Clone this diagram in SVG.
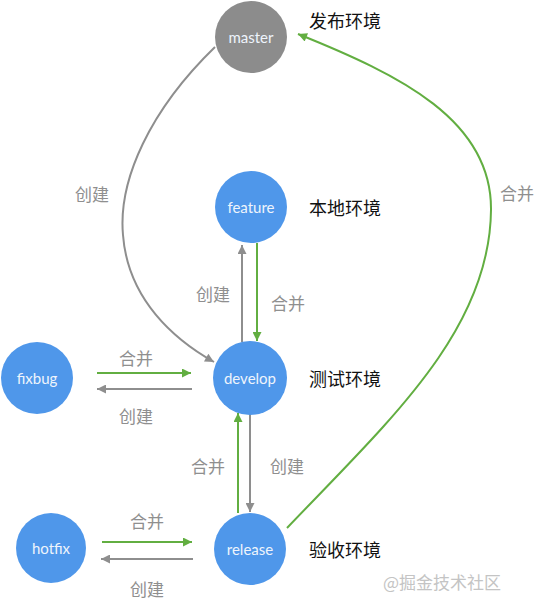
<svg xmlns="http://www.w3.org/2000/svg" width="542" height="608" viewBox="0 0 542 608">
<defs>
<marker id="ag" viewBox="0 0 10 10" refX="10" refY="5" markerWidth="11" markerHeight="9" markerUnits="userSpaceOnUse" orient="auto"><path d="M0,0 L10,5 L0,10 z" fill="#62ae41"/></marker>
<marker id="ay" viewBox="0 0 10 10" refX="10" refY="5" markerWidth="11" markerHeight="9" markerUnits="userSpaceOnUse" orient="auto"><path d="M0,0 L10,5 L0,10 z" fill="#8e8e8e"/></marker>
<style>
.n{fill:#4f97ea}
.m{fill:#8c8c8c}
.nt{font-family:Lato,"Open Sans","DejaVu Sans",sans-serif;font-size:15px;fill:#eef4fc;text-anchor:middle;dominant-baseline:central}
.env{font-family:"Noto Sans CJK SC",sans-serif;font-size:18px;fill:#111;dominant-baseline:central}
.lb{font-family:"Noto Sans CJK SC",sans-serif;font-size:17px;fill:#8f8f8f;text-anchor:middle;dominant-baseline:central}
.g{stroke:#62ae41;stroke-width:2;fill:none;marker-end:url(#ag)}
.y{stroke:#8e8e8e;stroke-width:2;fill:none;marker-end:url(#ay)}
</style>
</defs>
<g id="connectors">
<path class="y" d="M215,47 C150,110 118,180 123,235 C128,300 175,340 214,362"/>
<path class="g" d="M287,528 C390,420 490,330 491,210 C492,120 400,75 298,34"/>
<path class="y" d="M242,342 L242,245"/>
<path class="g" d="M257,243 L257,341"/>
<path class="g" d="M97,373 L191,373"/>
<path class="y" d="M192,389 L97,389"/>
<path class="g" d="M238,513 L238,413"/>
<path class="y" d="M250,414 L250,512"/>
<path class="g" d="M102,542 L192,542"/>
<path class="y" d="M193,559 L101,559"/>
</g>
<g id="labels">
<text class="lb" x="92" y="193">创建</text>
<text class="lb" x="213" y="293">创建</text>
<text class="lb" x="288" y="302">合并</text>
<text class="lb" x="517" y="192">合并</text>
<text class="lb" x="136" y="357">合并</text>
<text class="lb" x="136" y="415">创建</text>
<text class="lb" x="208" y="465">合并</text>
<text class="lb" x="287" y="465">创建</text>
<text class="lb" x="147" y="520">合并</text>
<text class="lb" x="147" y="588">创建</text>
</g>
<g id="master"><circle class="m" cx="251" cy="37" r="36"/><text class="nt" x="251" y="37">master</text></g>
<g id="feature"><circle class="n" cx="251" cy="207" r="36"/><text class="nt" x="251" y="207">feature</text></g>
<g id="develop"><circle class="n" cx="250" cy="378" r="37"/><text class="nt" x="250" y="378">develop</text></g>
<g id="fixbug"><circle class="n" cx="37" cy="378" r="36"/><text class="nt" x="37" y="378">fixbug</text></g>
<g id="release"><circle class="n" cx="250" cy="549" r="36"/><text class="nt" x="250" y="549">release</text></g>
<g id="hotfix"><circle class="n" cx="51" cy="548" r="35"/><text class="nt" x="51" y="548">hotfix</text></g>
<g id="envs">
<text class="env" x="309" y="20">发布环境</text>
<text class="env" x="309" y="207">本地环境</text>
<text class="env" x="309" y="378">测试环境</text>
<text class="env" x="309" y="549">验收环境</text>
</g>
<text x="383" y="581" font-family="Noto Sans CJK SC, sans-serif" font-size="17" fill="#c4c4c4" dominant-baseline="central">@掘金技术社区</text>
</svg>
